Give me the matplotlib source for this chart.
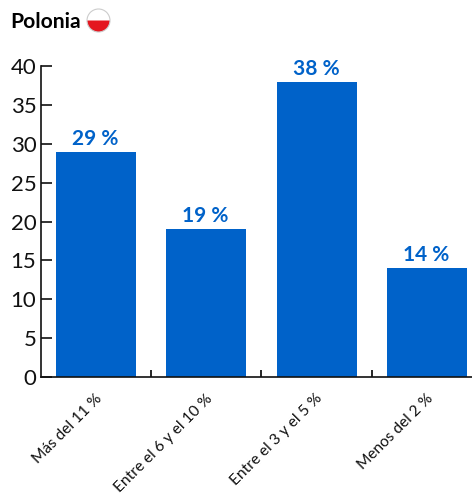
#!/usr/bin/env python3
"""Polonia: bar chart with round flag next to the title."""

import matplotlib
matplotlib.use("Agg")
import matplotlib.pyplot as plt
from matplotlib.patches import Circle, Wedge
from matplotlib.transforms import ScaledTranslation

plt.rcParams['font.family'] = ['Lato', 'Open Sans', 'DejaVu Sans']

W, H = 472, 493
BLUE = '#0062c9'

categories = ['Más del 11 %', 'Entre el 6 y el 10 %', 'Entre el 3 y el 5 %', 'Menos del 2 %']
values = [29, 19, 38, 14]
value_labels = ['29 %', '19 %', '38 %', '14 %']
yticks = [0, 5, 10, 15, 20, 25, 30, 35, 40]
title = 'Polonia'

fig = plt.figure(figsize=(W / 100, H / 100), dpi=100)
ax = fig.add_axes([40.5 / W, 1 - 377 / H, (472 - 40.5) / W, (377 - 66) / H])

x = range(len(categories))
ax.bar(x, values, width=0.725, color=BLUE, zorder=2)
for i, v, lab in zip(x, values, value_labels):
    ax.annotate(lab, (i, v), xytext=(-0.5, 2), textcoords='offset points', ha='center',
                va='bottom', fontsize=15, fontweight='bold', color=BLUE)

ax.set_xlim(-0.5, 3.405)
ax.set_ylim(0, 40)
ax.set_yticks(yticks)
ax.tick_params(axis='y', direction='in', length=8, width=1.2, labelsize=16,
               pad=3, colors='#111111')

# ticks sit between the bars, labels under the bars
ax.set_xticks([0.5, 1.5, 2.5])
ax.set_xticklabels([])
ax.tick_params(axis='x', which='major', direction='in', length=5, width=1.2)
ax.set_xticks(list(x), minor=True)
ax.set_xticklabels(categories, minor=True, rotation=45, ha='right', rotation_mode='anchor',
                   fontsize=11.2, color='#111111')
ax.tick_params(axis='x', which='minor', length=0, pad=10.5)
shift = ScaledTranslation(-1 / 72, 0, fig.dpi_scale_trans)
for lab in ax.get_xticklabels(minor=True):
    lab.set_transform(lab.get_transform() + shift)

ax.spines['top'].set_visible(False)
ax.spines['right'].set_visible(False)
for s in ('left', 'bottom'):
    ax.spines[s].set_linewidth(1.2)
    ax.spines[s].set_color('#111111')

fig.text(10 / W, 1 - 22.5 / H, title, fontsize=15.2, fontweight='bold', va='center', color='#000000')

# flag, in pixel coordinates
flag = fig.add_axes([0, 0, 1, 1], facecolor='none')
flag.set_xlim(0, W)
flag.set_ylim(H, 0)
flag.axis('off')
flag.add_patch(Wedge((98.5, 20.5), 11.5, 180, 360, facecolor='white', lw=0))
flag.add_patch(Wedge((98.5, 20.5), 11.5, 0, 180, facecolor='#e4161f', lw=0))
flag.add_patch(Circle((98.5, 20.5), 11.5, facecolor='none', edgecolor='#cccccc', lw=0.8))

fig.savefig('out.png', dpi=100)
